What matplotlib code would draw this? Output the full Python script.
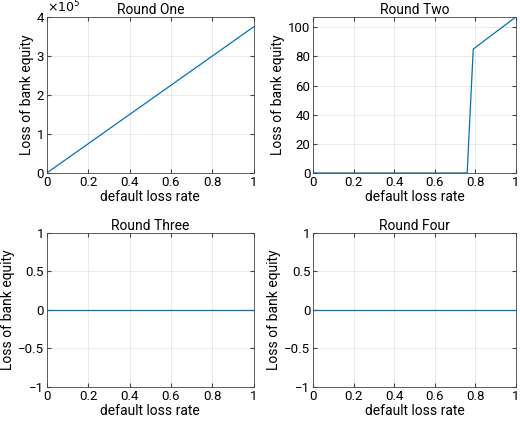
import matplotlib
matplotlib.use("Agg")
import matplotlib.pyplot as plt
import numpy as np

plt.rcParams['font.family'] = ['Roboto', 'DejaVu Sans']
plt.rcParams['font.size'] = 10

x1 = [0, 1]
y1 = [0, 3.75e5]
x2 = [0, 0.76, 0.79, 1]
y2 = [0, 0, 85, 107]
x3 = [0, 1]
y3 = [0, 0]
x4 = [0, 1]
y4 = [0, 0]
titles = ["Round One", "Round Two", "Round Three", "Round Four"]

fig = plt.figure(figsize=(5.2, 4.25), dpi=100)
rects = [[0.090, 0.593, 0.398, 0.367], [0.602, 0.593, 0.390, 0.367],
         [0.090, 0.090, 0.398, 0.362], [0.602, 0.090, 0.390, 0.362]]
data = [(x1, y1), (x2, y2), (x3, y3), (x4, y4)]
col = '#0072BD'
for i, (r, (x, y)) in enumerate(zip(rects, data)):
    ax = fig.add_axes(r)
    ax.plot(x, y, color=col, lw=0.9)
    ax.set_xlim(0, 1)
    ax.set_xticks(np.arange(0, 1.01, 0.2))
    ax.set_xticklabels(['0', '0.2', '0.4', '0.6', '0.8', '1'])
    ax.set_title(titles[i], fontsize=10, pad=2)
    ax.set_xlabel('default loss rate', labelpad=1)
    ax.set_ylabel('Loss of bank equity', labelpad=2)
    ax.grid(True, color='#e6e6e6', lw=0.6)
    ax.tick_params(direction='in', length=3, color='#444444', labelsize=9.5, pad=2,
                   top=True, right=True)
    for s in ax.spines.values():
        s.set_color('#444444'); s.set_linewidth(0.6)
    if i == 0:
        ax.set_ylim(0, 4e5)
        ax.set_yticks([0, 1e5, 2e5, 3e5, 4e5])
        ax.set_yticklabels(['0', '1', '2', '3', '4'])
        ax.text(0, 1.01, r'$\times 10^5$', transform=ax.transAxes, fontsize=9, va='bottom')
    elif i == 1:
        ax.set_ylim(0, 107)
        ax.set_yticks([0, 20, 40, 60, 80, 100])
    else:
        ax.set_ylim(-1, 1)
        ax.set_yticks([-1, -0.5, 0, 0.5, 1])
        ax.set_yticklabels(['\u22121', '\u22120.5', '0', '0.5', '1'])

fig.savefig('out.png', dpi=100)
